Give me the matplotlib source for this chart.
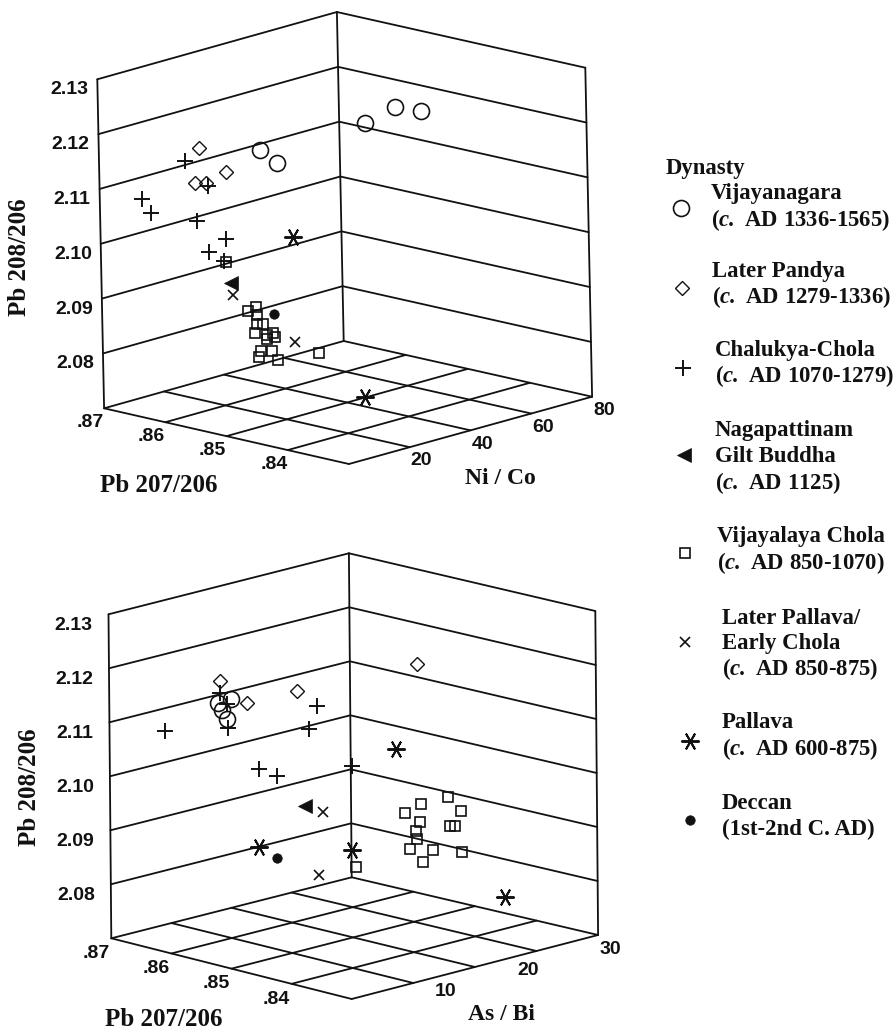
import numpy as np
import matplotlib
matplotlib.use("Agg")
import matplotlib.pyplot as plt

plt.rcParams['mathtext.fontset'] = 'custom'
plt.rcParams['mathtext.bfit'] = 'Liberation Serif:italic:bold'
plt.rcParams['mathtext.rm'] = 'Liberation Serif:bold'

# ---- upper panel: Ni/Co, Pb 207/206, Pb 208/206 ----
t_vij_x = [40, 48, 56, 8, 12]
t_vij_y = [.8461, .8452, .8450, .8476, .8468]
t_vij_z = [2.1219, 2.1238, 2.1220, 2.1215, 2.1187]
t_pan_x = [8, 12, 4, 8]
t_pan_y = [.8575, .8552, .8563, .8564]
t_pan_z = [2.1195, 2.1150, 2.1140, 2.1134]
t_cha_x = [4, 2.4, 4, 8, 12, 16, 8, 12]
t_cha_y = [.8578, .8642, .8636, .8562, .8600, .8574, .8562, .8557]
t_cha_z = [2.1175, 2.1092, 2.1067, 2.1129, 2.1048, 2.1017, 2.1007, 2.0987]
t_nag_x = [16]
t_nag_y = [.8567]
t_nag_z = [2.0938]
t_vch_x = [24] * 16
t_vch_y = [.8580, .8567, .8565, .8566, .8555, .8569, .8550, .8539, .8537, .8550,
           .8560, .8542, .8563, .8532, .8465, .8614]
t_vch_z = [2.0871, 2.0881, 2.0868, 2.0851, 2.0854, 2.0833, 2.0835, 2.0841, 2.0835, 2.0827,
           2.0803, 2.0807, 2.0791, 2.0794, 2.0824, 2.0952]
t_lpa_x = [16, 40]
t_lpa_y = [.8564, .8583]
t_lpa_z = [2.0916, 2.0789]
t_pal_x = [48, 40]
t_pal_y = [.8622, .8470]
t_pal_z = [2.0959, 2.0718]
t_dec_x = [32]
t_dec_y = [.8577]
t_dec_z = [2.0855]

# ---- lower panel: As/Bi, Pb 207/206, Pb 208/206 ----
b_vij_x = [3, 3, 3, 3]
b_vij_y = [.8560, .8552, .8537, .8544]
b_vij_z = [2.1164, 2.1153, 2.1178, 2.1139]
b_pan_x = [3, 6, 9, 18]
b_pan_y = [.8556, .8552, .8508, .8431]
b_pan_z = [2.1205, 2.1155, 2.1177, 2.1214]
b_cha_x = [3, 3, 3, 3, 6, 6, 9, 9, 15]
b_cha_y = [.8555, .8545, .8543, .8647, .8532, .8503, .8476, .8489, .8500]
b_cha_z = [2.1184, 2.1166, 2.1122, 2.1088, 2.1037, 2.1033, 2.1158, 2.1112, 2.1017]
b_nag_x = [9]
b_nag_y = [.8497]
b_nag_z = [2.0968]
b_vch_x = [12] + [18] * 13
b_vch_y = [.8454, .8382, .8426, .8454, .8361, .8428, .8380, .8371, .8435, .8434,
           .8445, .8408, .8360, .8424]
b_vch_z = [2.0854, 2.0981, 2.0956, 2.0931, 2.0960, 2.0921, 2.0927, 2.0929, 2.0903, 2.0888,
           2.0867, 2.0875, 2.0885, 2.0848]
b_lpa_x = [9, 12]
b_lpa_y = [.8467, .8515]
b_lpa_z = [2.0965, 2.0823]
b_pal_x = [6, 12, 18, 24]
b_pal_y = [.8534, .8461, .8467, .8371]
b_pal_z = [2.0892, 2.0884, 2.1046, 2.0774]
b_dec_x = [6]
b_dec_y = [.8504]
b_dec_z = [2.0880]

# ---- axes ----
z_ticks = [2.08, 2.09, 2.10, 2.11, 2.12, 2.13]
z_tick_labels = ['2.08', '2.09', '2.10', '2.11', '2.12', '2.13']
y_ticks = [.84, .85, .86, .87]
y_tick_labels = ['.84', '.85', '.86', '.87']
nico_ticks = [20, 40, 60, 80]
asbi_ticks = [10, 20, 30]
Y_LO, Y_HI, Z_LO, Z_HI = .83, .87, 2.07, 2.13

fig = plt.figure(figsize=(8.94, 10.32), dpi=100)
ax = fig.add_axes([0, 0, 1, 1])
ax.set_xlim(0, 894)
ax.set_ylim(1032, 0)
ax.axis('off')
INK = '#111111'
TICK = dict(family='Liberation Sans', weight='bold', color=INK, ha='center', va='center', fontsize=14)
SERIF = dict(family='Liberation Serif', weight='bold', color=INK)


def panel(F, a, b, c, d, xmax):
    """Oblique projection of the cube onto the page (pixels)."""
    F, a, b, c, d = map(np.asarray, (F, a, b, c, d))

    def proj(x, y, z):
        X = np.asarray(x, float) / xmax
        Y = (np.asarray(y, float) - Y_LO) / (Y_HI - Y_LO)
        Z = (np.asarray(z, float) - Z_LO) / (Z_HI - Z_LO)
        return (F[0] + a[0]*X + b[0]*Y + d[0]*X*Y + c[0]*Z,
                F[1] + a[1]*X + b[1]*Y + d[1]*X*Y + c[1]*Z)

    def line(p, q, lw=1.3):
        px, py = proj(*p)
        qx, qy = proj(*q)
        ax.plot([px, qx], [py, qy], color=INK, lw=lw, solid_capstyle='round', zorder=1)

    for z in z_ticks:
        line((0, Y_HI, z), (xmax, Y_HI, z))
        line((xmax, Y_HI, z), (xmax, Y_LO, z))
    line((0, Y_HI, Z_LO), (0, Y_HI, Z_HI))
    line((xmax, Y_HI, Z_LO), (xmax, Y_HI, Z_HI))
    line((xmax, Y_LO, Z_LO), (xmax, Y_LO, Z_HI))
    for x in np.linspace(0, xmax, 5):
        line((x, Y_LO, Z_LO), (x, Y_HI, Z_LO))
    for y in np.linspace(Y_LO, Y_HI, 5):
        line((0, y, Z_LO), (xmax, y, Z_LO))
    return proj


MARK = {
    'vij': dict(marker='o', ms=11.5, mfc='none', mec=INK, mew=1.2),
    'pan': dict(marker='D', ms=7.4, mfc='none', mec=INK, mew=1.0),
    'cha': dict(marker='+', ms=11.5, mec=INK, mew=1.4),
    'nag': dict(marker='<', ms=10, mfc=INK, mec=INK, mew=0.5),
    'vch': dict(marker='s', ms=7.5, mfc='none', mec=INK, mew=1.2),
    'lpa': dict(marker='x', ms=7.5, mec=INK, mew=1.2),
    'pal': dict(marker=(6, 2, 30), ms=13, mec=INK, mew=1.4),
    'dec': dict(marker='o', ms=7, mfc=INK, mec=INK, mew=0.3),
}


def scatter(proj, key, x, y, z):
    px, py = proj(x, y, z)
    ax.plot(px, py, ls='none', zorder=3, **MARK[key])


# ---------- upper panel ----------
p1 = panel((348.9, 464), (243.2, -67.3), (-244.8, -55.7), (-6.8, -329), (-3.6, 0), 80)
scatter(p1, 'vij', t_vij_x, t_vij_y, t_vij_z)
scatter(p1, 'pan', t_pan_x, t_pan_y, t_pan_z)
scatter(p1, 'cha', t_cha_x, t_cha_y, t_cha_z)
scatter(p1, 'nag', t_nag_x, t_nag_y, t_nag_z)
scatter(p1, 'vch', t_vch_x, t_vch_y, t_vch_z)
scatter(p1, 'lpa', t_lpa_x, t_lpa_y, t_lpa_z)
scatter(p1, 'pal', t_pal_x, t_pal_y, t_pal_z)
scatter(p1, 'dec', t_dec_x, t_dec_y, t_dec_z)
for v, s in zip(z_ticks, z_tick_labels):
    px, py = p1(0, Y_HI, v)
    ax.text(px - 27.8, py + 10.5, s, **TICK)
for v, s in zip(y_ticks, y_tick_labels):
    px, py = p1(0, v, Z_LO)
    ax.text(px - 13.9, py + 14.3, s, **TICK)
for v in nico_ticks:
    px, py = p1(v, Y_LO, Z_LO)
    ax.text(px + 11.9, py + 13.7, str(v), **TICK)
ax.text(20, 257, 'Pb 208/206', rotation=90, ha='center', va='center', fontsize=18, **SERIF)
ax.text(159, 486, 'Pb 207/206', ha='center', va='center', fontsize=18, **SERIF)
ax.text(500, 479, 'Ni / Co', ha='center', va='center', fontsize=17, **SERIF)

# ---------- lower panel ----------
p2 = panel((351.7, 999), (246.4, -64), (-240.4, -60.7), (-2.8, -324), (-6, 3), 30)
scatter(p2, 'vij', b_vij_x, b_vij_y, b_vij_z)
scatter(p2, 'pan', b_pan_x, b_pan_y, b_pan_z)
scatter(p2, 'cha', b_cha_x, b_cha_y, b_cha_z)
scatter(p2, 'nag', b_nag_x, b_nag_y, b_nag_z)
scatter(p2, 'vch', b_vch_x, b_vch_y, b_vch_z)
scatter(p2, 'lpa', b_lpa_x, b_lpa_y, b_lpa_z)
scatter(p2, 'pal', b_pal_x, b_pal_y, b_pal_z)
scatter(p2, 'dec', b_dec_x, b_dec_y, b_dec_z)
for v, s in zip(z_ticks, z_tick_labels):
    px, py = p2(0, Y_HI, v)
    ax.text(px - 35, py + 11.5, s, **TICK)
for v, s in zip(y_ticks, y_tick_labels):
    px, py = p2(0, v, Z_LO)
    ax.text(px - 15, py + 15.3, s, **TICK)
for v in asbi_ticks:
    px, py = p2(v, Y_LO, Z_LO)
    ax.text(px + 11.9, py + 14.3, str(v), **TICK)
ax.text(29, 787, 'Pb 208/206', rotation=90, ha='center', va='center', fontsize=18, **SERIF)
ax.text(164, 1019, 'Pb 207/206', ha='center', va='center', fontsize=18, **SERIF)
ax.text(501.5, 1015, 'As / Bi', ha='center', va='center', fontsize=17, **SERIF)

# ---------- legend ----------
LEG = dict(va='baseline', ha='left', fontsize=16.4, **SERIF)
ax.text(666, 174, 'Dynasty', **LEG)
legend = [
    ('vij', 681, 208, 711, [('Vijayanagara', 199), (r'($\mathbfit{c.}$ AD 1336-1565)', 226)]),
    ('pan', 682, 288, 712, [('Later Pandya', 277), (r'($\mathbfit{c.}$ AD 1279-1336)', 303)]),
    ('cha', 683, 368, 715, [('Chalukya-Chola', 356), (r'($\mathbfit{c.}$ AD 1070-1279)', 382)]),
    ('nag', 684, 455, 715, [('Nagapattinam', 436), ('Gilt Buddha', 462), (r'($\mathbfit{c.}$ AD 1125)', 489)]),
    ('vch', 685, 553, 717, [('Vijayalaya Chola', 542), (r'($\mathbfit{c.}$ AD 850-1070)', 569)]),
    ('lpa', 685, 642, 722, [('Later Pallava/', 624), ('Early Chola', 649), (r'($\mathbfit{c.}$ AD 850-875)', 675)]),
    ('pal', 690, 741, 722, [('Pallava', 728), (r'($\mathbfit{c.}$ AD 600-875)', 755)]),
    ('dec', 690, 820, 722, [('Deccan', 809), ('(1st-2nd C. AD)', 835)]),
]
for key, mx, my, tx, rows in legend:
    ax.plot([mx], [my], ls='none', **MARK[key])
    for s, ty in rows:
        ax.text(tx, ty, s, **LEG)

fig.savefig('out.png', dpi=100, facecolor='white')
